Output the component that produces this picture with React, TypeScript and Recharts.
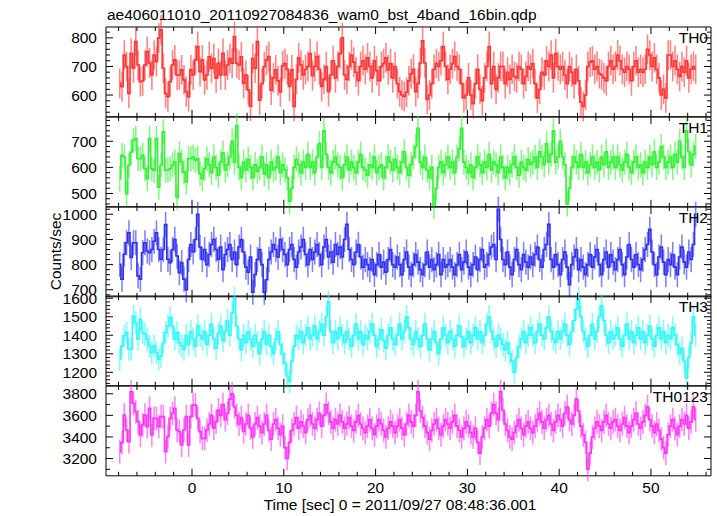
import React from 'react';
import { ComposedChart, Line, XAxis, YAxis, ErrorBar, ReferenceArea } from 'recharts';

// ---- data (16-bin light curves, 0.25 s bins) ----
const T0 = -7.875;
const BIN = 0.25;

const TH0 = [
  641,629,740,699,606,746,694,787,705,647,649,705,
  752,712,670,740,717,799,828,694,606,594,647,705,
  723,670,670,688,653,612,594,688,670,723,770,682,
  723,653,670,734,694,728,659,711,670,746,670,705,
  728,711,805,711,705,734,641,670,618,561,728,694,
  787,582,640,699,722,735,617,660,688,650,611,702,
  710,690,630,688,560,655,730,705,670,690,700,745,
  668,700,735,690,630,655,700,612,670,720,660,700,
  745,800,670,655,700,740,715,680,650,700,720,690,
  730,700,660,720,685,650,700,710,730,688,710,660,
  700,640,612,600,595,610,650,674,690,612,640,712,
  790,712,585,600,640,690,710,700,720,770,700,655,
  690,710,735,700,690,640,590,600,660,600,570,640,
  690,620,580,660,700,770,640,700,620,660,700,700,
  640,680,655,690,665,660,700,690,640,665,700,690,
  710,640,590,620,680,670,720,700,740,660,745,700,
  690,700,670,640,700,680,640,690,650,575,560,600,
  700,715,720,690,700,675,670,660,650,700,720,690,
  700,740,720,690,680,700,690,650,700,720,680,690,
  680,690,760,740,700,730,690,660,600,620,590,740,
  740,700,720,690,665,700,680,720,660,690,700,690,
];

const TH1 = [
  557,646,640,499,608,659,704,710,633,633,646,595,
  557,710,595,589,710,524,608,736,589,589,595,608,
  621,486,653,621,582,544,633,633,640,627,633,576,
  557,595,633,610,580,640,600,570,620,655,590,610,
  640,700,620,760,600,560,620,590,630,600,560,610,
  585,600,640,575,610,560,620,590,600,640,580,610,
  590,560,470,520,600,630,610,580,620,600,650,600,
  620,580,640,690,600,740,650,600,580,620,640,610,
  600,560,610,640,590,620,600,580,620,650,600,590,
  570,610,600,640,580,600,610,560,600,640,620,590,
  630,600,580,620,660,600,570,610,640,680,750,620,
  600,640,590,560,600,450,520,600,620,580,610,640,
  600,620,580,640,670,750,620,600,580,610,560,600,
  640,610,580,620,600,650,590,620,610,580,640,600,
  560,600,580,610,640,600,570,620,600,590,630,610,
  620,640,600,660,640,610,690,620,650,740,620,640,
  700,640,610,460,520,600,640,620,600,650,600,620,
  580,610,640,600,620,590,640,610,660,600,620,640,
  600,640,610,590,620,650,600,580,620,640,600,610,
  580,620,600,640,610,660,600,620,680,640,600,620,
  640,600,650,620,700,640,600,740,660,610,650,680,
];

const TH2 = [
  801,742,841,887,926,828,887,887,755,742,847,887,
  854,847,860,893,926,860,821,860,959,821,808,860,
  900,834,768,808,742,700,820,880,850,900,1000,870,
  820,860,800,840,880,900,860,820,870,780,840,860,
  880,820,850,800,870,900,850,790,770,830,690,760,
  820,860,800,690,740,820,850,880,860,830,900,860,
  840,800,860,880,820,790,850,870,900,840,800,860,
  820,850,880,840,800,870,900,830,850,810,880,840,
  870,830,900,960,860,820,800,850,880,830,790,820,
  800,780,820,760,800,840,790,810,770,820,860,800,
  790,830,800,760,820,850,790,760,800,840,810,780,
  760,800,850,790,820,780,800,840,760,820,790,800,
  820,790,760,800,840,780,810,850,790,760,800,830,
  780,820,860,790,800,840,870,880,820,1020,900,820,
  800,850,790,760,820,860,800,780,840,810,790,830,
  800,840,870,820,790,860,880,960,820,790,840,800,
  760,820,850,790,720,800,830,860,780,820,790,760,
  800,840,790,830,860,800,760,820,850,790,840,810,
  780,820,860,800,760,830,880,820,790,840,800,780,
  820,860,880,940,850,800,760,830,870,810,760,820,
  800,840,790,760,830,870,810,790,850,820,880,1000,
];

const TH3 = [
  1270,1342,1396,1414,1324,1324,1504,1468,1378,1486,1414,1405,
  1378,1342,1306,1342,1306,1270,1288,1360,1414,1450,1495,1450,
  1378,1414,1360,1342,1324,1400,1350,1420,1380,1340,1450,1400,
  1380,1420,1350,1400,1460,1380,1330,1410,1450,1370,1420,1480,
  1400,1520,1600,1450,1380,1320,1400,1360,1420,1380,1340,1400,
  1360,1300,1380,1420,1350,1400,1340,1300,1380,1420,1350,1300,
  1250,1180,1150,1260,1340,1400,1380,1420,1360,1400,1440,1380,
  1400,1450,1380,1420,1460,1400,1500,1580,1420,1360,1420,1380,
  1440,1400,1360,1420,1380,1340,1400,1460,1380,1420,1350,1400,
  1380,1420,1460,1400,1340,1380,1430,1370,1330,1400,1440,1380,
  1350,1400,1460,1380,1420,1500,1440,1380,1350,1420,1380,1340,
  1400,1460,1380,1320,1380,1420,1360,1300,1380,1440,1400,1360,
  1420,1380,1340,1400,1450,1390,1340,1380,1420,1360,1400,1440,
  1380,1420,1360,1400,1460,1500,1420,1380,1340,1400,1380,1350,
  1320,1360,1300,1260,1200,1280,1340,1380,1420,1360,1400,1440,
  1400,1360,1420,1460,1400,1380,1440,1500,1420,1380,1360,1420,
  1380,1420,1460,1400,1350,1420,1480,1540,1600,1500,1420,1380,
  1340,1400,1460,1380,1420,1500,1560,1480,1400,1360,1420,1380,
  1400,1440,1380,1340,1400,1460,1380,1420,1360,1400,1440,1380,
  1420,1360,1400,1450,1380,1340,1400,1440,1380,1420,1360,1400,
  1380,1440,1400,1350,1300,1330,1260,1170,1280,1360,1500,1400,
];

const TH0123 = [
  3264,3347,3603,3464,3356,3819,3711,3634,3542,3418,3510,3603,
  3495,3665,3418,3572,3572,3495,3588,3588,3264,3403,3572,3619,
  3665,3464,3449,3325,3464,3588,3325,3588,3695,3695,3572,3449,
  3387,3387,3464,3520,3600,3480,3540,3650,3600,3700,3560,3620,
  3750,3800,3680,3600,3520,3580,3450,3520,3600,3480,3400,3520,
  3580,3500,3440,3520,3600,3460,3380,3520,3560,3480,3420,3500,
  3300,3200,3350,3460,3520,3580,3480,3540,3500,3440,3560,3600,
  3520,3480,3560,3620,3500,3600,3700,3620,3540,3480,3560,3520,
  3600,3540,3480,3520,3580,3500,3460,3540,3600,3520,3480,3440,
  3500,3560,3480,3420,3500,3560,3520,3460,3400,3480,3540,3500,
  3440,3500,3560,3480,3420,3520,3600,3540,3500,3600,3820,3640,
  3580,3500,3440,3380,3460,3520,3560,3480,3420,3500,3560,3520,
  3480,3540,3600,3500,3460,3400,3480,3540,3500,3440,3400,3480,
  3350,3250,3400,3480,3560,3500,3620,3700,3620,3560,3820,3650,
  3520,3460,3400,3380,3440,3500,3560,3480,3420,3500,3540,3480,
  3440,3500,3560,3620,3540,3480,3560,3600,3520,3460,3540,3600,
  3560,3500,3620,3680,3560,3520,3600,3750,3640,3500,3420,3350,
  3100,3250,3400,3480,3540,3500,3460,3540,3600,3520,3480,3540,
  3560,3500,3460,3520,3580,3500,3440,3500,3560,3620,3520,3480,
  3540,3600,3680,3560,3500,3440,3520,3460,3380,3300,3250,3420,
  3500,3560,3480,3420,3500,3560,3520,3600,3480,3540,3680,3560,
];

const ERRORS = [52, 48, 50, 62, 110];
const NAMES = ['TH0', 'TH1', 'TH2', 'TH3', 'TH0123'];
const X_TICKS = [-8,-6,-4,-2,0,2,4,6,8,10,12,14,16,18,20,22,24,26,28,30,32,34,36,38,40,42,44,46,48,50,52,54,56];

const TITLE = 'ae406011010_20110927084836_wam0_bst_4band_16bin.qdp';
const X_TITLE = 'Time [sec] 0 = 2011/09/27 08:48:36.001';
const Y_TITLE = 'Counts/sec';

// ---- layout ----
const W = 717;
const H = 516;
const PLOT_LEFT = 106;
const PLOT_RIGHT = 711;
const PW = PLOT_RIGHT - PLOT_LEFT;
const PANEL_TOP = 27;
const PANEL_H = 89.8;
const PAD = 14;
const X_DOMAIN: [number, number] = [-9.37, 56.54];
const FONT = '"Liberation Sans", Arial, Helvetica, sans-serif';
const FS = 15.5;

const seq = (a: number, b: number, s: number) => {
  const out: number[] = [];
  for (let v = a; v <= b + 1e-9; v += s) out.push(Math.round(v * 1000) / 1000);
  return out;
};

const PANELS = [
  { values: TH0, color: '#ff3434', domain: [524, 838], ticks: seq(540, 820, 20), major: 100 },
  { values: TH1, color: '#34f034', domain: [449, 793], ticks: seq(460, 780, 20), major: 100 },
  { values: TH2, color: '#3030f0', domain: [672, 1029], ticks: seq(680, 1020, 20), major: 100 },
  { values: TH3, color: '#34f6f6', domain: [1127, 1612], ticks: seq(1140, 1600, 20), major: 100 },
  { values: TH0123, color: '#ff34f6', domain: [3040, 3872], ticks: seq(3100, 3800, 100), major: 200 },
];

const XTick = (props: any) => {
  const { x, y, payload, showLabel } = props;
  const v = payload.value;
  const major = v % 10 === 0;
  const len = major ? 7 : 4;
  return (
    <g>
      <line x1={x} x2={x} y1={y} y2={y - len} stroke="#000" strokeWidth={1} />
      <line x1={x} x2={x} y1={y - PANEL_H} y2={y - PANEL_H + len} stroke="#000" strokeWidth={1} />
      {showLabel && major ? (
        <text x={x} y={y + 17} textAnchor="middle" fontFamily={FONT} fontSize={FS} fill="#000">
          {v}
        </text>
      ) : null}
    </g>
  );
};

const YTick = (props: any) => {
  const { x, y, payload, majorStep } = props;
  const v = payload.value;
  const major = Math.abs(v % majorStep) < 1e-6;
  const len = major ? 7 : 4;
  return (
    <g>
      <line x1={x} x2={x + len} y1={y} y2={y} stroke="#000" strokeWidth={1} />
      <line x1={x + PW} x2={x + PW - len} y1={y} y2={y} stroke="#000" strokeWidth={1} />
      {major ? (
        <text x={x - 9} y={y} dy="0.36em" textAnchor="end" fontFamily={FONT} fontSize={FS} fill="#000">
          {v}
        </text>
      ) : null}
    </g>
  );
};

const Panel = ({ k }: { k: number }) => {
  const p = PANELS[k];
  const last = k === PANELS.length - 1;
  const bottomPad = last ? 40 : PAD;
  const data = p.values.map((v, i) => ({ t: T0 + BIN * i, v, err: ERRORS[k] }));
  const top = PANEL_TOP + k * PANEL_H - PAD;
  return (
    <div style={{ position: 'absolute', left: 0, top }}>
      <ComposedChart
        width={W}
        height={PAD + PANEL_H + bottomPad}
        data={data}
        margin={{ top: PAD, right: W - PLOT_RIGHT, bottom: 0, left: PLOT_LEFT - 60 }}
      >
        <XAxis
          dataKey="t"
          type="number"
          domain={X_DOMAIN}
          allowDataOverflow
          ticks={X_TICKS}
          interval={0}
          height={bottomPad}
          axisLine={false}
          tickLine={false}
          tickSize={0}
          tickMargin={0}
          tick={(tp: any) => <XTick {...tp} showLabel={last} />}
        />
        <YAxis
          type="number"
          domain={p.domain}
          allowDataOverflow
          ticks={p.ticks}
          interval={0}
          width={60}
          axisLine={false}
          tickLine={false}
          tickSize={0}
          tickMargin={0}
          tick={(tp: any) => <YTick {...tp} majorStep={p.major} />}
        />
        <Line
          dataKey="v"
          type="step"
          stroke={p.color}
          strokeWidth={1.6}
          dot={false}
          isAnimationActive={false}
        >
          <ErrorBar dataKey="err" width={0} stroke={p.color} strokeOpacity={0.6} strokeWidth={1.6} direction="y" isAnimationActive={false} />
        </Line>
        <ReferenceArea
          x1={X_DOMAIN[0]}
          x2={X_DOMAIN[1]}
          y1={p.domain[0]}
          y2={p.domain[1]}
          fill="none"
          fillOpacity={0}
          stroke="#000"
          strokeWidth={1}
          ifOverflow="visible"
        />
      </ComposedChart>
    </div>
  );
};

export default function App() {
  return (
    <div style={{ position: 'absolute', left: 0, top: 0, width: W, height: H, background: '#fff', overflow: 'hidden' }}>
      {PANELS.map((_, k) => (
        <Panel key={k} k={k} />
      ))}
      <svg width={W} height={H} style={{ position: 'absolute', left: 0, top: 0, pointerEvents: 'none' }}>
        <text x={107} y={20} fontFamily={FONT} fontSize={FS} fill="#000">{TITLE}</text>
        <text
          x={0}
          y={0}
          transform={`translate(61, ${PANEL_TOP + 2.5 * PANEL_H}) rotate(-90)`}
          textAnchor="middle"
          fontFamily={FONT}
          fontSize={FS}
          fill="#000"
        >
          {Y_TITLE}
        </text>
        <text x={400} y={510} textAnchor="middle" fontFamily={FONT} fontSize={FS} fill="#000">{X_TITLE}</text>
        {NAMES.map((n, k) => (
          <text key={n} x={708} y={PANEL_TOP + k * PANEL_H + 16} textAnchor="end" fontFamily={FONT} fontSize={FS} fill="#000">
            {n}
          </text>
        ))}
      </svg>
    </div>
  );
}
